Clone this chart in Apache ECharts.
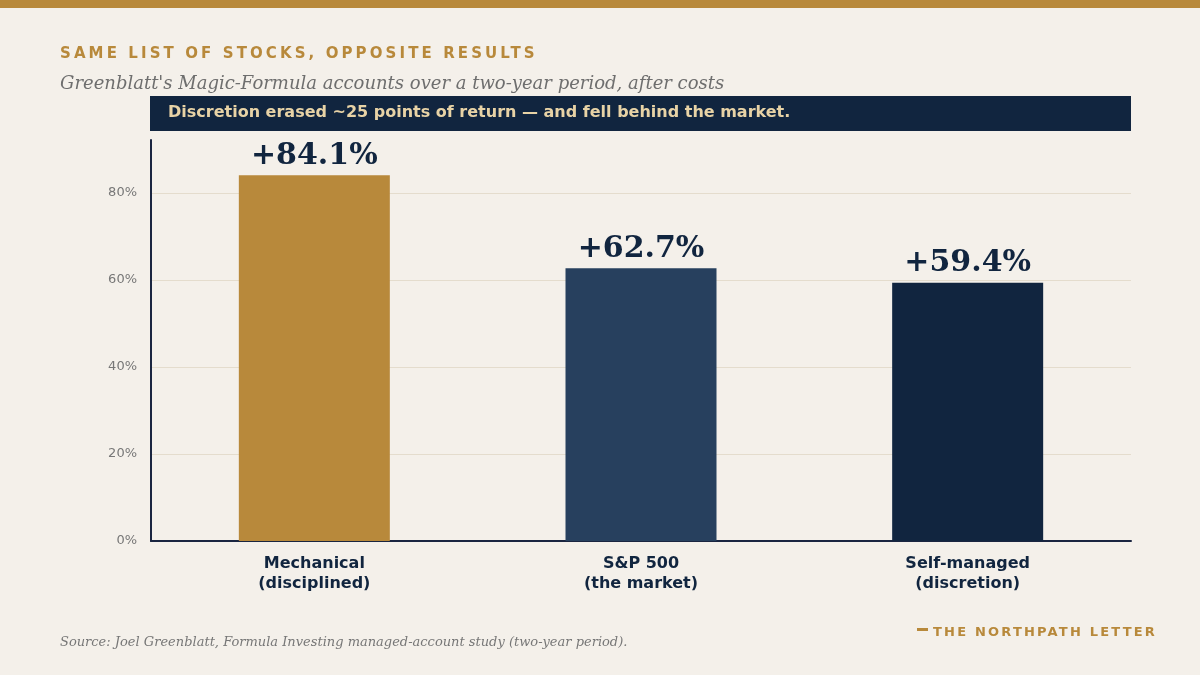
<!DOCTYPE html>
<html>
<head>
<meta charset="utf-8">
<script src="https://cdn.jsdelivr.net/npm/echarts@6/dist/echarts.min.js"></script>
<style>
  html, body { margin: 0; padding: 0; background: #f4f0ea; }
  #wrap { position: relative; width: 1200px; height: 675px; }
  #chart { width: 1200px; height: 675px; }
  .kicker {
    position: absolute; left: 60px; top: 44px;
    font: bold 15px "DejaVu Sans", sans-serif; letter-spacing: 3.1px;
    color: #b8893b; white-space: nowrap;
  }
  .brand {
    position: absolute; left: 917px; top: 624px;
    font: bold 13px "DejaVu Sans", sans-serif; letter-spacing: 2.2px;
    color: #b8893b; white-space: nowrap;
  }
  .brand i {
    display: inline-block; width: 11px; height: 3px; background: #b8893b;
    vertical-align: middle; margin-right: 5px; position: relative; top: -3px;
  }
</style>
</head>
<body>
<div id="wrap">
  <div id="chart"></div>
  <div class="kicker">SAME LIST OF STOCKS, OPPOSITE RESULTS</div>
  <div class="brand"><i></i>THE NORTHPATH LETTER</div>
</div>
<script>
// chart data
const categories = ["Mechanical\n(disciplined)", "S&P 500\n(the market)", "Self-managed\n(discretion)"];
const returns = [84.1, 62.7, 59.4];
const barColors = ["#b8893b", "#27405e", "#11253f"];
const yTicks = [0, 20, 40, 60, 80];

const subtitle = "Greenblatt's Magic-Formula accounts over a two-year period, after costs";
const banner = "Discretion erased ~25 points of return \u2014 and fell behind the market.";
const source = "Source: Joel Greenblatt, Formula Investing managed-account study (two-year period).";

const navy = "#11253f";

let chart = echarts.init(document.getElementById("chart"));

let option = {
    backgroundColor: "#f4f0ea",
    animation: false,
    grid: { left: 151, right: 69, top: 140, bottom: 134 },
    xAxis: {
        type: "category",
        data: categories,
        axisLine: { lineStyle: { color: "#1a2540", width: 2 } },
        axisTick: { show: false },
        axisLabel: {
            margin: 13,
            color: navy,
            fontFamily: "DejaVu Sans",
            fontWeight: "bold",
            fontSize: 16,
            lineHeight: 20
        }
    },
    yAxis: {
        type: "value",
        min: 0,
        max: 92.2,
        interval: 20,
        axisLine: { show: true, lineStyle: { color: "#1a2540", width: 2 } },
        axisTick: { show: false },
        splitLine: { showMaxLine: false, lineStyle: { color: "#e4dccd", width: 1 } },
        axisLabel: {
            margin: 14,
            color: "#777777",
            fontFamily: "DejaVu Sans",
            fontSize: 13,
            showMaxLabel: false,
            formatter: v => (yTicks.indexOf(v) >= 0 ? v + "%" : "")
        }
    },
    series: [{
        type: "bar",
        barWidth: 151,
        data: returns.map((v, i) => ({ value: v, itemStyle: { color: barColors[i] } })),
        label: {
            show: true,
            position: "top",
            distance: 4,
            color: navy,
            fontFamily: "DejaVu Serif",
            fontWeight: "bold",
            fontSize: 30,
            formatter: p => "+" + p.value.toFixed(1) + "%"
        }
    }],
    graphic: [
        { type: "rect", left: 0, top: 0, shape: { width: 1200, height: 8 }, style: { fill: "#b8893b" } },
        {
            type: "text", left: 60, top: 75,
            style: { text: subtitle, fill: "#6e6e6e", font: "italic 18px 'DejaVu Serif'" }
        },
        { type: "rect", left: 150, top: 96, shape: { width: 981, height: 35 }, style: { fill: navy } },
        {
            type: "text", left: 168, top: 105,
            style: { text: banner, fill: "#e8d3a6", font: "bold 16px 'DejaVu Sans'" }
        },
        {
            type: "text", left: 60, top: 636,
            style: { text: source, fill: "#777777", font: "italic 13px 'DejaVu Serif'" }
        }
    ]
};

chart.setOption(option);
</script>
</body>
</html>
